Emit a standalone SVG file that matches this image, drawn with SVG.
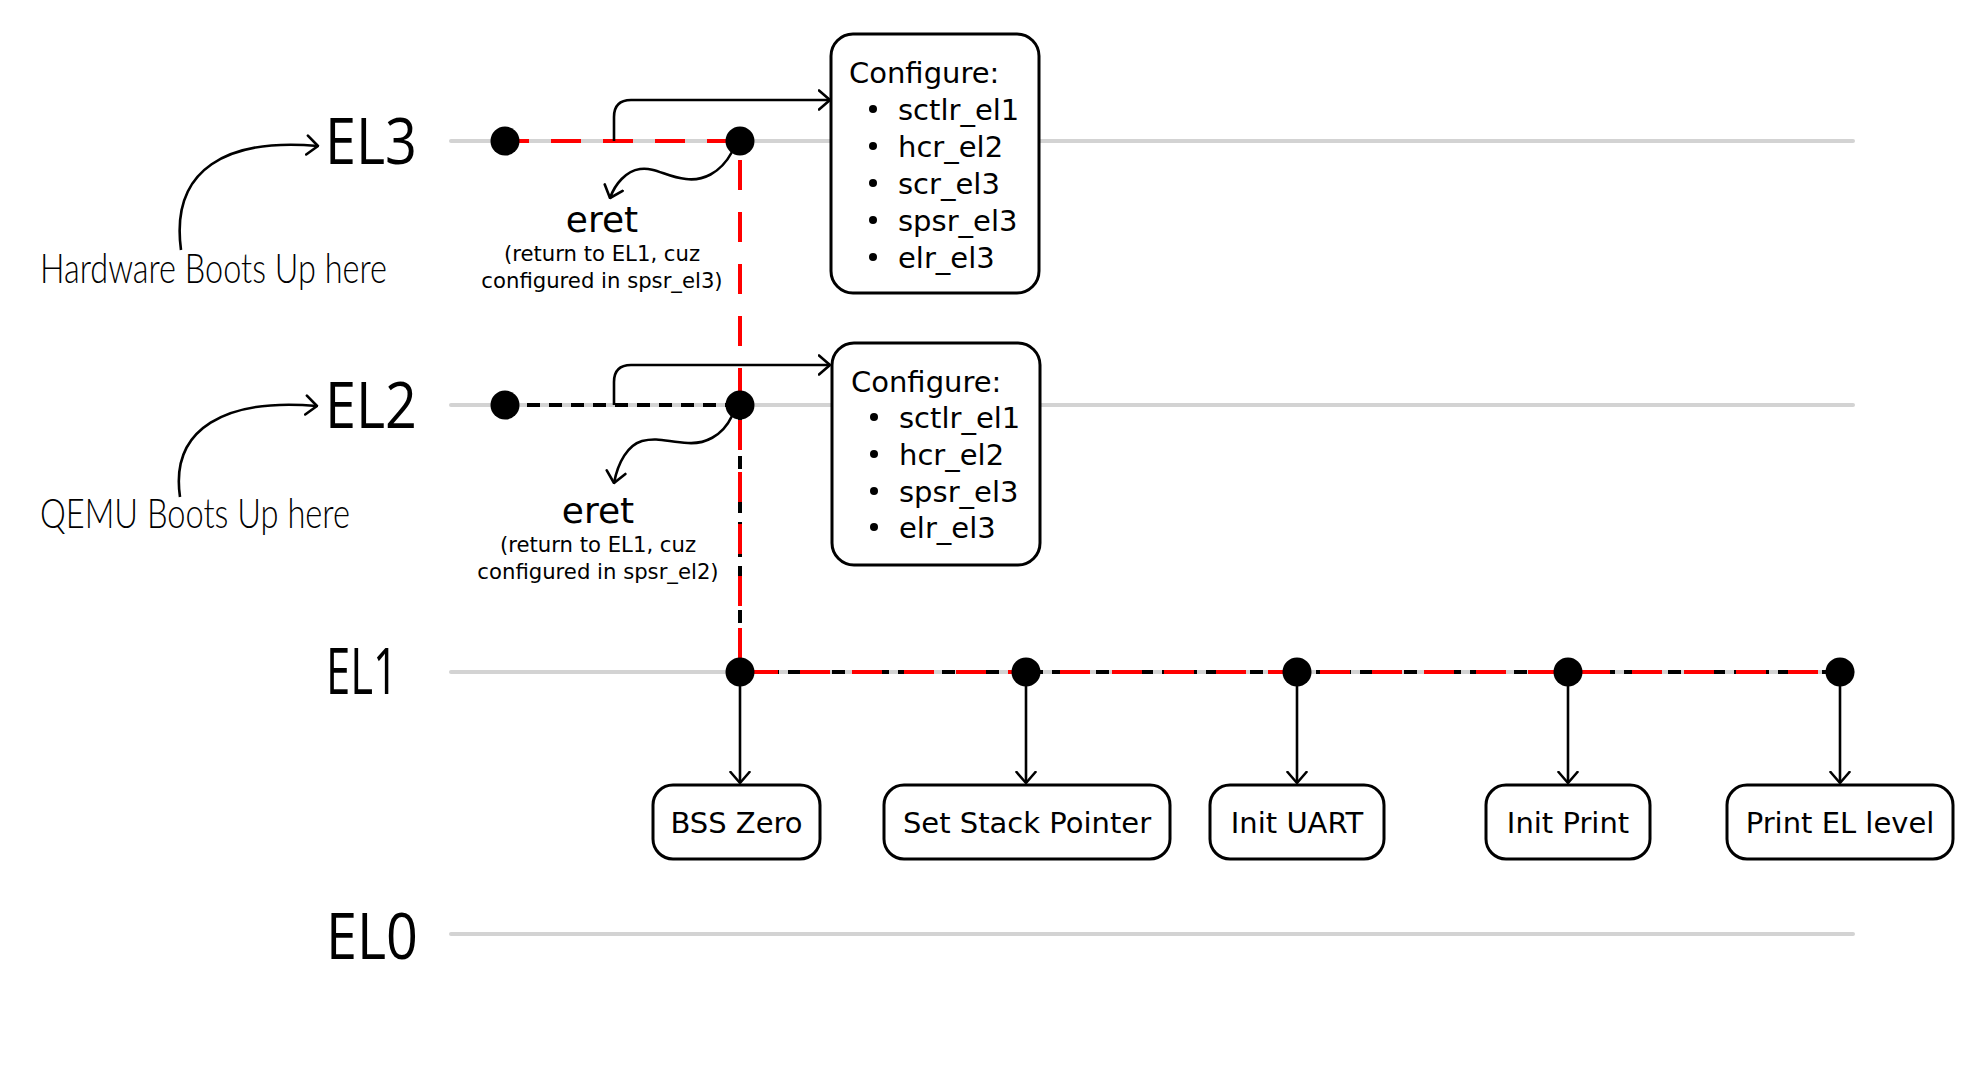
<svg xmlns="http://www.w3.org/2000/svg" width="1983" height="1080" viewBox="0 0 1983 1080">
<style>
.lvl{stroke:#d3d3d3;stroke-width:4;stroke-linecap:round;fill:none}
.el{font-family:"Open Sans","DejaVu Sans","Liberation Sans",sans-serif;font-size:64px;fill:#000}
.hand{font-family:"Lato","Open Sans",sans-serif;font-weight:300;font-size:41px;fill:#000}
.conn{stroke:#000;stroke-width:2.6;fill:none}
.box{fill:#fff;stroke:#000;stroke-width:3}
.t{font-family:"DejaVu Sans","Liberation Sans",sans-serif;font-size:29px;fill:#000}
.eret{font-family:"DejaVu Sans","Liberation Sans",sans-serif;font-size:36px;fill:#000;text-anchor:middle}
.note{font-family:"DejaVu Sans","Liberation Sans",sans-serif;font-size:21.2px;fill:#000;text-anchor:middle}
.mid{text-anchor:middle}
.dot{fill:#000}
.bul{fill:#000}
</style>
<defs>
<marker id="ah" viewBox="0 0 14 22" refX="12.5" refY="11" markerWidth="14" markerHeight="22" markerUnits="userSpaceOnUse" orient="auto">
<path d="M1.5,1.5 L12.5,11 L1.5,20.5" fill="none" stroke="#000" stroke-width="2.6" stroke-linecap="round" stroke-linejoin="round"/>
</marker>
</defs>
<rect width="1983" height="1080" fill="#fff"/>

<g id="levels">
<line class="lvl" x1="451" y1="141" x2="1853" y2="141"/>
<line class="lvl" x1="451" y1="405" x2="1853" y2="405"/>
<line class="lvl" x1="451" y1="672" x2="1853" y2="672"/>
<line class="lvl" x1="451" y1="934" x2="1853" y2="934"/>
</g>

<g id="labels">
<text class="el" x="325" y="164" textLength="92" lengthAdjust="spacingAndGlyphs">EL3</text>
<text class="el" x="325" y="428" textLength="92" lengthAdjust="spacingAndGlyphs">EL2</text>
<text class="el" x="326" y="694" textLength="72" lengthAdjust="spacingAndGlyphs">EL1</text>
<text class="el" x="326" y="959" textLength="92" lengthAdjust="spacingAndGlyphs">EL0</text>
<text class="hand" x="40" y="283" textLength="347" lengthAdjust="spacingAndGlyphs">Hardware Boots Up here</text>
<text class="hand" x="40" y="528" textLength="310" lengthAdjust="spacingAndGlyphs">QEMU Boots Up here</text>
</g>

<g id="connectors">
<path d="M505,405 H740 V672 H1840" fill="none" stroke="#000" stroke-width="4" stroke-dasharray="13 9"/>
<path d="M1840,672 H740 V141 H505" fill="none" stroke="#f00" stroke-width="4" stroke-dasharray="30 22" stroke-dashoffset="-22"/>
<path class="conn" d="M181,250 C170,168 228,138 318,146" marker-end="url(#ah)"/>
<path class="conn" d="M180,497 C170,428 226,398 317,406" marker-end="url(#ah)"/>
<path class="conn" d="M614,141 V117 Q614,100 631,100 H830" marker-end="url(#ah)"/>
<path class="conn" d="M614,405 V382 Q614,365 631,365 H830" marker-end="url(#ah)"/>
<path class="conn" d="M732,152 C720,174 702,181 686,179 C666,177 656,167 640,169 C626,171 615,184 610,198" marker-end="url(#ah)"/>
<path class="conn" d="M732,416 C722,437 704,444 688,443 C668,442 658,437 642,441 C628,445 618,462 614,483" marker-end="url(#ah)"/>
<line class="conn" x1="740" y1="680" x2="740" y2="783" marker-end="url(#ah)"/>
<line class="conn" x1="1026" y1="680" x2="1026" y2="783" marker-end="url(#ah)"/>
<line class="conn" x1="1297" y1="680" x2="1297" y2="783" marker-end="url(#ah)"/>
<line class="conn" x1="1568" y1="680" x2="1568" y2="783" marker-end="url(#ah)"/>
<line class="conn" x1="1840" y1="680" x2="1840" y2="783" marker-end="url(#ah)"/>
</g>

<g id="dots">
<circle class="dot" cx="505" cy="141" r="14.5"/>
<circle class="dot" cx="740" cy="141" r="14.5"/>
<circle class="dot" cx="505" cy="405" r="14.5"/>
<circle class="dot" cx="740" cy="405" r="14.5"/>
<circle class="dot" cx="740" cy="672" r="14.5"/>
<circle class="dot" cx="1026" cy="672" r="14.5"/>
<circle class="dot" cx="1297" cy="672" r="14.5"/>
<circle class="dot" cx="1568" cy="672" r="14.5"/>
<circle class="dot" cx="1840" cy="672" r="14.5"/>
</g>

<g id="eret-el3">
<text class="eret" x="602" y="232">eret</text>
<text class="note" x="602" y="261">(return to EL1, cuz</text>
<text class="note" x="602" y="288">configured in spsr_el3)</text>
</g>
<g id="eret-el2">
<text class="eret" x="598" y="523">eret</text>
<text class="note" x="598" y="552">(return to EL1, cuz</text>
<text class="note" x="598" y="579">configured in spsr_el2)</text>
</g>

<g id="config-el3">
<rect class="box" x="831" y="34" width="208" height="259" rx="22"/>
<text class="t" x="849" y="83">Configure:</text>
<circle class="bul" cx="873" cy="109" r="4"/><text class="t" x="898" y="120">sctlr_el1</text>
<circle class="bul" cx="873" cy="146" r="4"/><text class="t" x="898" y="157">hcr_el2</text>
<circle class="bul" cx="873" cy="183" r="4"/><text class="t" x="898" y="194">scr_el3</text>
<circle class="bul" cx="873" cy="220" r="4"/><text class="t" x="898" y="231">spsr_el3</text>
<circle class="bul" cx="873" cy="257" r="4"/><text class="t" x="898" y="268">elr_el3</text>
</g>

<g id="config-el2">
<rect class="box" x="832" y="343" width="208" height="222" rx="22"/>
<text class="t" x="851" y="392">Configure:</text>
<circle class="bul" cx="874" cy="417" r="4"/><text class="t" x="899" y="428">sctlr_el1</text>
<circle class="bul" cx="874" cy="454" r="4"/><text class="t" x="899" y="465">hcr_el2</text>
<circle class="bul" cx="874" cy="491" r="4"/><text class="t" x="899" y="502">spsr_el3</text>
<circle class="bul" cx="874" cy="527" r="4"/><text class="t" x="899" y="538">elr_el3</text>
</g>

<g id="bss-zero">
<rect class="box" x="653" y="785" width="167" height="74" rx="20"/>
<text class="t mid" x="736.5" y="833">BSS Zero</text>
</g>
<g id="set-stack-pointer">
<rect class="box" x="884" y="785" width="286" height="74" rx="20"/>
<text class="t mid" x="1027" y="833">Set Stack Pointer</text>
</g>
<g id="init-uart">
<rect class="box" x="1210" y="785" width="174" height="74" rx="20"/>
<text class="t mid" x="1297" y="833">Init UART</text>
</g>
<g id="init-print">
<rect class="box" x="1486" y="785" width="164" height="74" rx="20"/>
<text class="t mid" x="1568" y="833">Init Print</text>
</g>
<g id="print-el-level">
<rect class="box" x="1727" y="785" width="226" height="74" rx="20"/>
<text class="t mid" x="1840" y="833">Print EL level</text>
</g>
</svg>
